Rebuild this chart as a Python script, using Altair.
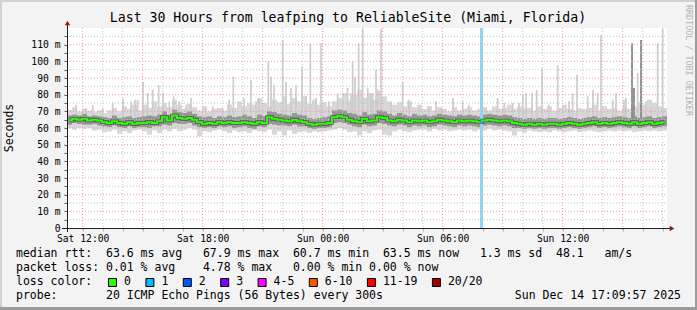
import altair as alt
import pandas as pd

MONO = "DejaVu Sans Mono"
TITLE = "Last 30 Hours from leafping to ReliableSite (Miami, Florida)"
Y_TITLE = "Seconds"
WATERMARK = "RRDTOOL / TOBI OETIKER"
LEGEND_LINES = [
    "median rtt:  63.6 ms avg   67.9 ms max  60.7 ms min  63.5 ms now   1.3 ms sd  48.1   am/s",
    "packet loss: 0.01 % avg    4.78 % max   0.00 % min 0.00 % now",
    "loss color:",
    "probe:       20 ICMP Echo Pings (56 Bytes) every 300s",
]
STAMP = "Sun Dec 14 17:09:57 2025"

START = "2025-12-13T11:13:00"
STEP_MINUTES = 15

# ---- smoke data: one value per 15-minute step (Sat 11:13 .. Sun 17:13), milliseconds
median_ms = [
    64.5, 65.5, 65.0, 65.5, 64.5, 65.0, 64.5,
    63.5, 63.0, 64.0, 63.0, 62.5, 63.5, 62.5, 63.0,
    63.0, 63.5, 63.0, 64.0, 66.5, 64.5, 67.5, 66.0,
    65.5, 66.0, 65.0, 63.5, 62.5, 63.0, 62.5, 63.5,
    63.0, 63.5, 63.0, 63.0, 63.5, 63.0, 62.5, 63.5,
    63.0, 66.5, 65.5, 65.0, 64.5, 64.0, 65.0, 64.0,
    63.5, 62.5, 62.0, 62.5, 62.5, 63.0, 66.5, 67.0,
    66.5, 65.0, 64.0, 63.5, 65.5, 64.0, 64.5, 66.5,
    66.0, 64.5, 64.0, 65.0, 64.5, 63.5, 64.5, 64.0,
    64.5, 63.5, 64.0, 65.0, 64.5, 64.0, 63.5, 64.5,
    64.0, 64.5, 64.0, 63.5, 64.5, 65.0, 64.5, 64.0,
    64.5, 64.0, 63.0, 62.5, 62.0, 62.5, 62.0, 62.5,
    62.0, 62.5, 62.5, 62.0, 62.5, 63.0, 62.5, 62.0,
    62.5, 63.0, 63.5, 62.5, 63.0, 62.5, 63.0, 63.5,
    63.0, 62.5, 63.5, 62.5, 63.0, 63.5, 62.5, 63.0, 63.5,
]
smoke_min = [
    60.0, 59.0, 60.0, 59.5, 60.0, 58.5, 59.0,
    57.5, 58.0, 59.0, 56.5, 58.0, 57.0, 58.5, 59.0,
    58.0, 56.0, 58.5, 57.0, 59.0, 58.0, 59.5, 58.0,
    59.0, 60.0, 59.0, 55.0, 58.0, 57.5, 58.5, 59.0,
    58.0, 57.0, 58.5, 57.5, 58.0, 57.0, 58.5, 58.0,
    57.5, 59.0, 56.0, 58.0, 55.5, 58.5, 56.5, 57.5,
    58.0, 57.0, 58.0, 57.5, 58.0, 58.5, 59.0, 60.0,
    59.0, 57.5, 58.0, 55.5, 58.0, 57.0, 58.5, 59.0,
    56.0, 55.5, 58.0, 59.0, 58.0, 57.5, 58.5, 59.0,
    59.0, 58.0, 59.5, 58.5, 59.0, 58.0, 58.5, 59.0,
    58.5, 59.0, 58.0, 59.0, 58.5, 59.5, 58.5, 59.0,
    58.5, 58.0, 55.5, 58.0, 57.0, 58.5, 58.0, 57.5,
    58.0, 57.5, 58.5, 58.0, 57.5, 58.0, 58.5, 57.5,
    58.0, 58.5, 58.0, 57.5, 58.0, 58.5, 58.0, 58.5,
    58.0, 58.5, 57.5, 58.0, 58.5, 58.0, 58.5, 58.0, 58.5,
]
smoke_max = [
    71.0, 72.5, 70.0, 71.5, 70.5, 69.5, 70.5,
    69.0, 70.5, 72.0, 70.0, 73.0, 71.5, 74.0, 70.5,
    74.0, 72.0, 76.0, 73.0, 75.0, 72.5, 77.0, 74.0,
    71.5, 74.5, 72.5, 70.5, 73.0, 70.0, 71.5, 72.0,
    70.5, 74.0, 72.0, 76.0, 73.0, 75.0, 74.0, 78.0,
    75.0, 73.0, 77.0, 75.5, 79.0, 74.5, 78.0, 76.0,
    79.0, 74.5, 77.0, 74.0, 75.5, 73.0, 76.0, 78.0,
    81.0, 76.5, 80.0, 83.0, 78.0, 81.0, 77.0, 82.0,
    79.0, 76.0, 74.0, 75.5, 73.0, 76.0, 72.5, 74.0,
    71.5, 73.0, 70.5, 72.5, 71.5, 70.0, 72.5, 70.5,
    71.5, 72.5, 70.5, 71.5, 72.5, 70.5, 73.0, 71.5,
    72.0, 74.0, 71.5, 73.0, 71.5, 72.0, 70.5, 73.0,
    71.5, 73.0, 70.5, 72.0, 74.0, 71.5, 70.5, 72.0,
    71.5, 72.0, 74.0, 70.5, 73.0, 71.5, 72.0, 70.5,
    72.0, 71.5, 73.0, 75.5, 74.0, 77.0, 75.0, 73.0, 72.0,
]
core_lo = [
    62.0, 63.0, 62.5, 62.0, 62.0, 62.5, 61.5,
    61.0, 60.5, 61.5, 60.5, 60.0, 61.0, 60.0, 60.5,
    60.5, 60.0, 61.0, 61.0, 62.0, 61.5, 63.0, 62.5,
    62.5, 63.0, 61.5, 60.5, 60.0, 60.5, 60.0, 61.0,
    60.5, 61.0, 60.0, 60.5, 61.0, 60.0, 59.5, 61.0,
    60.5, 62.5, 62.0, 61.5, 61.5, 61.0, 62.0, 61.0,
    61.0, 60.0, 59.5, 60.0, 60.0, 60.5, 63.0, 63.5,
    63.0, 62.0, 61.0, 60.5, 62.0, 61.0, 61.5, 63.0,
    62.5, 61.5, 61.0, 62.0, 61.5, 60.5, 61.5, 61.0,
    61.5, 60.5, 61.0, 62.0, 61.5, 61.0, 60.5, 61.5,
    61.0, 61.5, 61.0, 60.5, 61.5, 62.0, 61.5, 61.0,
    61.5, 61.0, 60.0, 60.0, 59.5, 60.0, 59.5, 60.0,
    59.5, 60.0, 60.0, 59.5, 60.0, 60.5, 60.0, 59.5,
    60.0, 60.5, 61.0, 60.0, 60.5, 60.0, 60.5, 61.0,
    60.5, 60.0, 61.0, 60.0, 60.5, 61.0, 60.0, 60.5, 61.0,
]
core_hi = [
    67.5, 68.0, 67.5, 68.5, 67.0, 67.5, 67.0,
    66.5, 66.0, 67.5, 66.0, 66.5, 67.0, 66.0, 66.5,
    67.0, 67.5, 67.0, 68.0, 70.0, 68.0, 71.0, 69.5,
    69.0, 70.0, 68.5, 67.0, 66.5, 67.0, 66.0, 67.0,
    66.5, 67.5, 66.5, 67.0, 68.0, 67.0, 66.0, 68.0,
    67.0, 70.0, 69.5, 68.5, 68.0, 67.5, 69.0, 68.0,
    67.5, 66.0, 65.5, 66.0, 66.5, 67.0, 70.5, 71.0,
    70.5, 69.0, 68.5, 67.5, 69.5, 68.0, 68.5, 70.5,
    70.0, 68.5, 67.5, 69.0, 68.0, 67.0, 68.5, 67.5,
    68.0, 67.0, 67.5, 68.5, 68.0, 67.5, 67.0, 68.0,
    67.5, 68.0, 67.5, 67.0, 68.0, 68.5, 68.0, 67.5,
    68.0, 67.5, 66.5, 66.0, 65.5, 66.0, 65.5, 66.0,
    65.5, 66.0, 66.0, 65.5, 66.0, 66.5, 66.0, 65.5,
    66.0, 66.5, 67.0, 66.0, 66.5, 66.0, 66.5, 67.0,
    66.5, 66.0, 67.0, 66.0, 66.5, 67.0, 66.0, 66.5, 67.0,
]

# ---- individual outlier pings (thin spikes): time, highest ping (ms), darker stroke
spike_time = [
    "2025-12-13T11:40:00", "2025-12-13T12:10:00", "2025-12-13T12:30:00", "2025-12-13T13:00:00",
    "2025-12-13T13:30:00", "2025-12-13T14:01:00", "2025-12-13T14:25:00", "2025-12-13T14:37:00",
    "2025-12-13T14:45:00", "2025-12-13T15:01:00", "2025-12-13T15:15:00", "2025-12-13T15:30:00",
    "2025-12-13T15:48:00", "2025-12-13T16:01:00", "2025-12-13T16:20:00", "2025-12-13T16:33:00",
    "2025-12-13T16:50:00", "2025-12-13T17:10:00", "2025-12-13T17:25:00", "2025-12-13T18:10:00",
    "2025-12-13T18:30:00", "2025-12-13T19:00:00", "2025-12-13T19:19:00", "2025-12-13T19:32:00",
    "2025-12-13T20:04:00", "2025-12-13T20:25:00", "2025-12-13T20:40:00", "2025-12-13T20:49:00",
    "2025-12-13T21:17:00", "2025-12-13T21:25:00", "2025-12-13T21:34:00", "2025-12-13T22:00:00",
    "2025-12-13T22:10:00", "2025-12-13T22:25:00", "2025-12-13T22:40:00", "2025-12-13T22:58:00",
    "2025-12-13T23:10:00", "2025-12-13T23:23:00", "2025-12-13T23:40:00", "2025-12-13T23:55:00",
    "2025-12-14T00:19:00", "2025-12-14T00:45:00", "2025-12-14T01:00:00", "2025-12-14T01:15:00",
    "2025-12-14T01:25:00", "2025-12-14T01:30:00", "2025-12-14T01:37:00", "2025-12-14T01:48:00",
    "2025-12-14T02:00:00", "2025-12-14T02:15:00", "2025-12-14T02:25:00", "2025-12-14T02:30:00",
    "2025-12-14T02:40:00", "2025-12-14T02:45:00", "2025-12-14T02:55:00", "2025-12-14T03:25:00",
    "2025-12-14T04:00:00", "2025-12-14T04:19:00", "2025-12-14T04:49:00", "2025-12-14T05:19:00",
    "2025-12-14T05:40:00", "2025-12-14T05:55:00", "2025-12-14T06:31:00", "2025-12-14T07:00:00",
    "2025-12-14T07:19:00", "2025-12-14T08:10:00", "2025-12-14T08:45:00", "2025-12-14T09:05:00",
    "2025-12-14T09:30:00", "2025-12-14T09:49:00", "2025-12-14T10:01:00", "2025-12-14T10:10:00",
    "2025-12-14T10:28:00", "2025-12-14T10:42:00", "2025-12-14T10:58:00", "2025-12-14T11:19:00",
    "2025-12-14T11:45:00", "2025-12-14T12:19:00", "2025-12-14T12:30:00", "2025-12-14T12:43:00",
    "2025-12-14T13:15:00", "2025-12-14T13:31:00", "2025-12-14T13:45:00", "2025-12-14T13:55:00",
    "2025-12-14T14:30:00", "2025-12-14T14:40:00", "2025-12-14T15:04:00", "2025-12-14T15:10:00",
    "2025-12-14T15:28:00", "2025-12-14T15:34:00", "2025-12-14T15:45:00", "2025-12-14T15:55:00",
    "2025-12-14T16:10:00", "2025-12-14T16:25:00", "2025-12-14T16:45:00", "2025-12-14T17:00:00",
]
spike_top = [
    73.8, 72.0, 73.8, 72.0,
    75.0, 77.6, 76.0, 77.0,
    77.0, 87.8, 81.0, 83.0,
    85.8, 81.0, 76.0, 79.0,
    76.0, 74.0, 78.0, 72.0,
    73.0, 72.0, 77.0, 90.8,
    78.0, 88.8, 76.0, 78.0,
    99.8, 90.8, 86.0, 112.8,
    87.8, 84.0, 85.8, 96.8,
    79.0, 110.8, 78.0, 110.8,
    76.0, 80.8, 76.8, 84.0,
    80.8, 99.8, 90.8, 110.8,
    119.5, 84.0, 79.0, 81.0,
    94.8, 83.0, 119.5, 75.0,
    87.8, 77.0, 72.0, 73.0,
    76.0, 72.0, 78.0, 76.0,
    74.0, 72.0, 78.0, 75.0,
    75.0, 75.0, 79.8, 80.8,
    81.0, 82.8, 95.8, 74.0,
    97.8, 76.0, 80.8, 92.0,
    79.0, 83.0, 80.8, 115.8,
    77.0, 81.0, 77.0, 78.0,
    110.8, 84.0, 93.0, 112.8,
    76.0, 72.0, 110.8, 119.5,
]
spike_dark = [
    False, False, False, False,
    False, False, False, False,
    False, False, False, False,
    False, False, False, False,
    False, False, False, False,
    False, False, False, False,
    False, False, False, False,
    False, False, False, False,
    False, False, False, False,
    False, False, False, False,
    False, False, False, False,
    False, False, False, False,
    False, False, False, False,
    False, False, False, False,
    False, False, False, False,
    False, False, False, False,
    False, False, False, False,
    False, False, False, False,
    False, False, False, False,
    False, False, False, False,
    False, False, False, False,
    False, False, False, False,
    True, True, False, True,
    False, False, False, False,
]

# ---- packet-loss event
loss_start = ["2025-12-14T07:52:00"]
loss_end = ["2025-12-14T08:01:00"]
loss_median = [63.5]

loss_labels = ["0", "1", "2", "3", "4-5", "6-10", "11-19", "20/20"]
loss_colors = ["#26ff00", "#00b8ff", "#0059ff", "#7e00ff", "#ff00ff", "#ff5500", "#ff0000", "#a10000"]

# ---- grid / tick values
ms_ticks = [0, 5, 10, 15, 20, 25, 30, 35, 40, 45, 50, 55, 60, 65, 70, 75, 80, 85, 90, 95, 100, 105, 110, 115]
grid_major_ms = [10, 20, 30, 40, 50, 60, 70, 80, 90, 100, 110]
grid_minor_ms = [5, 15, 25, 35, 45, 55, 65, 75, 85, 95, 105, 115]
hour_marks = [(13, h) for h in range(12, 24)] + [(14, h) for h in range(0, 18)]

# ---------------------------------------------------------------
FMT = "%Y-%m-%dT%H:%M:%S"
steps = pd.date_range(START, periods=len(median_ms), freq=f"{STEP_MINUTES}min")
smoke = pd.DataFrame({
    "t0": steps.strftime(FMT),
    "t1": (steps + pd.Timedelta(minutes=STEP_MINUTES)).strftime(FMT),
    "tm": (steps + pd.Timedelta(minutes=STEP_MINUTES / 2)).strftime(FMT),
    "median": median_ms, "lo": smoke_min, "hi": smoke_max, "clo": core_lo, "chi": core_hi,
})
spikes = pd.DataFrame({"t": spike_time, "top": spike_top, "dark": spike_dark})
loss = pd.DataFrame({"t0": loss_start, "t1": loss_end, "median": loss_median})
hours = pd.DataFrame({
    "t": [f"2025-12-{d}T{h:02d}:00:00" for d, h in hour_marks],
    "major": [h % 3 == 0 for d, h in hour_marks],
})
hgrid = pd.DataFrame({"v": grid_major_ms + grid_minor_ms,
                      "major": [True] * len(grid_major_ms) + [False] * len(grid_minor_ms)})

W, H = 600, 200
PAD = {"left": 67, "top": 28, "right": 30, "bottom": 82}

def dt(day, h, m=0):
    return alt.DateTime(year=2025, month=12, date=day, hours=h, minutes=m)

xs = alt.Scale(domain=[dt(13, 11, 13), dt(14, 17, 13)])
ys = alt.Scale(domain=[0, 120], nice=False, zero=True)

NB = "\u00a0"
def nb(s):
    return s.replace(" ", NB)

X_AXIS = alt.Axis(
    values=[dt(d, h) for d, h in hour_marks],
    labelExpr="hours(datum.value) % 6 == 0 ? timeFormat(datum.value, '%a %H:%M') : ''",
    title=None, domain=False, grid=False, tickSize=3, tickColor="#b0b0b0",
    labelFont=MONO, labelFontSize=9.7, labelColor="#000000", labelPadding=2,
    labelOverlap=False, labelFlush=False,
)
Y_AXIS = alt.Axis(
    values=ms_ticks,
    labelExpr=f"datum.value % 10 == 0 ? (datum.value == 0 ? '0{NB}{NB}' : datum.value + '{NB}m') : ''",
    title=None, domain=False, grid=False, tickSize=3, tickColor="#606060",
    labelFont=MONO, labelFontSize=9.7, labelColor="#000000", labelPadding=4,
    labelOverlap=False, labelFlush=False, labelBaseline="middle",
)

def X(field):
    return alt.X(field, type="temporal", scale=xs, axis=X_AXIS)

def Y(field):
    return alt.Y(field, type="quantitative", scale=ys, axis=Y_AXIS)

one = alt.Data(values=[{"k": 1}])

def box(x, x2, y, y2, color):
    return alt.Chart(one).mark_rect(color=color).encode(
        x=alt.value(x), x2=alt.value(x2), y=alt.value(y), y2=alt.value(y2))

def label(text, x, y, size, align="left", angle=0, color="#000000", baseline="middle"):
    return alt.Chart(alt.Data(values=[{"s": nb(text)}])).mark_text(
        font=MONO, fontSize=size, align=align, baseline=baseline, angle=angle, color=color
    ).encode(text="s:N", x=alt.value(x), y=alt.value(y))

# frame shading
frame = [
    box(-67, 630, -28, -26, "#d2d2d2"),
    box(-67, -65, -28, 282, "#d2d2d2"),
    box(628, 630, -28, 282, "#9c9c9c"),
    box(-67, 630, 279, 282, "#9c9c9c"),
]

light = alt.Chart(smoke).mark_rect(color="#d8d8d8").encode(
    x=X("t0"), x2="t1", y=Y("lo"), y2="hi")

spike_light = alt.Chart(spikes).transform_filter("!datum.dark").mark_rule(
    color="#cdcdcd", strokeWidth=1.7).encode(
    x=X("t"), y=Y("top"), y2=alt.datum(66))

core = alt.Chart(smoke).mark_rect(color="#969696").encode(
    x=X("t0"), x2="t1", y=Y("clo"), y2="chi")

spike_dark_l = alt.Chart(spikes).transform_filter("datum.dark").mark_rule(
    color="#8a8a8a", strokeWidth=1.8).encode(
    x=X("t"), y=Y("top"), y2=alt.datum(66))

vgrid_minor = alt.Chart(hours).transform_filter("!datum.major").mark_rule(
    color="#c4c4c4", strokeDash=[1, 2], strokeWidth=1).encode(
    x=X("t"), y=alt.value(0), y2=alt.value(H))
vgrid_major = alt.Chart(hours).transform_filter("datum.major").mark_rule(
    color="#f09a9a", strokeDash=[1, 2], strokeWidth=1).encode(
    x=X("t"), y=alt.value(0), y2=alt.value(H + 3))
hgrid_minor = alt.Chart(hgrid).transform_filter("!datum.major").mark_rule(
    color="#c4c4c4", strokeDash=[1, 2], strokeWidth=1).encode(
    y=Y("v"), x=alt.value(0), x2=alt.value(W))
hgrid_major = alt.Chart(hgrid).transform_filter("datum.major").mark_rule(
    color="#f09a9a", strokeDash=[1, 2], strokeWidth=1).encode(
    y=Y("v"), x=alt.value(-3), x2=alt.value(W))

loss_bar = alt.Chart(loss).mark_rect(color="#8fd6f5").encode(
    x=X("t0"), x2="t1", y=alt.value(0), y2=alt.value(H))

med_under = alt.Chart(smoke).mark_line(interpolate="step", color="#444444", strokeWidth=3.6, opacity=0.8).encode(
    x=X("tm"), y=Y("median"))
med = alt.Chart(smoke).mark_line(interpolate="step", color="#26ff00", strokeWidth=2).encode(
    x=X("tm"), y=Y("median"))
loss_med = alt.Chart(loss).mark_rule(color="#00b8ff", strokeWidth=2.2).encode(
    x=X("t0"), x2="t1", y=Y("median"))

axes = [
    alt.Chart(one).mark_rule(color="#202020", strokeWidth=1).encode(
        x=alt.value(-5), x2=alt.value(W + 3), y=alt.value(H + 0.5)),
    alt.Chart(one).mark_rule(color="#202020", strokeWidth=1).encode(
        x=alt.value(0.5), y=alt.value(H + 4), y2=alt.value(-3)),
    alt.Chart(one).mark_point(shape="triangle-right", filled=True, color="#9a1515", size=28, opacity=1).encode(
        x=alt.value(W + 5), y=alt.value(H + 0.5)),
    alt.Chart(one).mark_point(shape="triangle-up", filled=True, color="#9a1515", size=28, opacity=1).encode(
        x=alt.value(0.5), y=alt.value(-5)),
]

# legend rows (plot-relative pixel rows under the x axis)
ROWS = [226, 240, 254, 268]
texts = [
    label(TITLE, 281, -10, 13.2, align="center"),
    label(Y_TITLE, -57, 100, 11.5, align="center", angle=270),
    label(WATERMARK, 621.5, -23, 8.4, align="left", angle=90, color="#b4b4b4"),
    label(LEGEND_LINES[0], -51, ROWS[0], 11.5),
    label(LEGEND_LINES[1], -51, ROWS[1], 11.5),
    label(LEGEND_LINES[2], -51, ROWS[2], 11.5),
    label(LEGEND_LINES[3], -51, ROWS[3], 11.5),
    label(STAMP, 614, ROWS[3], 11.5, align="right"),
]

# loss colour legend: squares + labels laid out left to right
legend_layers = []
left = 108 - 67
for lab, col in zip(loss_labels, loss_colors):
    legend_layers.append(
        alt.Chart(one).mark_square(color=col, size=64, opacity=1, stroke="#000000", strokeWidth=1).encode(
            x=alt.value(left + 4.5), y=alt.value(ROWS[2] + 0.5)))
    legend_layers.append(label(lab, left + 16, ROWS[2], 11.5))
    left += 30.5 + 6.9 * len(lab)

chart = alt.layer(
    *frame, light, spike_light, core, spike_dark_l, loss_bar,
    vgrid_minor, hgrid_minor, vgrid_major, hgrid_major,
    med_under, med, loss_med, *axes, *texts, *legend_layers,
).properties(
    width=W, height=H,
    autosize=alt.AutoSizeParams(type="none"),
    padding=PAD,
    background="#f3f3f3",
).configure_view(stroke=None, fill="#ffffff")

chart.save("out.html", embed_options={"renderer": "svg", "actions": False})
